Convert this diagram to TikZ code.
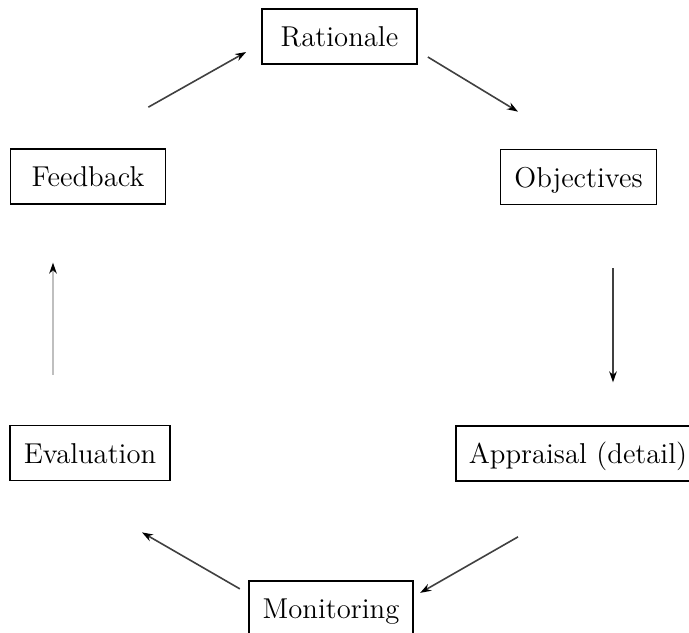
\documentclass[tikz,border=0pt]{standalone}
\usetikzlibrary{arrows.meta,calc}

\begin{document}
\begin{tikzpicture}[x=0.5pt,y=-0.5pt,
    stage/.style={draw, line width=0.85pt, minimum width=77.5pt,
        minimum height=27.5pt, inner xsep=7pt, text height=10pt, text depth=0pt,
        font=\fontsize{14.35}{17}\selectfont},
    link/.style={line width=0.8pt, draw=black!75,
        -{Stealth[length=5.5pt,width=3.8pt,black]}}]
    \useasboundingbox (0,0) rectangle (689,632);
    % the six stages, placed round the cycle
    \node[stage] (rat) at (339.5,36.5) {Rationale};
    \node[stage] (obj) at (578.5,177) {Objectives};
    \node[stage] (feed) at (88,176.5) {Feedback};
    \node[stage] (eval) at (90,453) {Evaluation};
    \node[stage, anchor=west, inner xsep=6.5pt, text width=120pt, align=left]
        (appr) at (455,453.5) {Appraisal (detail)};  % runs off the right edge
    \node[stage, anchor=north] (mon) at (331,580) {Monitoring};
    % arrows, kept clear of the boxes
    \draw[link] ($(feed.north east)+(-18,-41)$) -- ($(rat.west)+(-15,15.5)$);
    \draw[link] ($(rat.east)+(10,20.5)$) -- ($(obj.north)+(-60.5,-37)$);
    \draw[link] ($(obj.south)+(34.5,63)$) -- ++(0,114);
    \draw[link] ($(appr.south west)+(63,55)$) -- ($(mon.east)+(6,-15.5)$);
    \draw[link] ($(mon.west)+(-8,-19.5)$) -- ($(eval.south)+(52,51)$);
    \draw[link, draw=black!25] ($(eval.north)+(-37,-50)$) -- ++(0,-112);
\end{tikzpicture}
\end{document}
